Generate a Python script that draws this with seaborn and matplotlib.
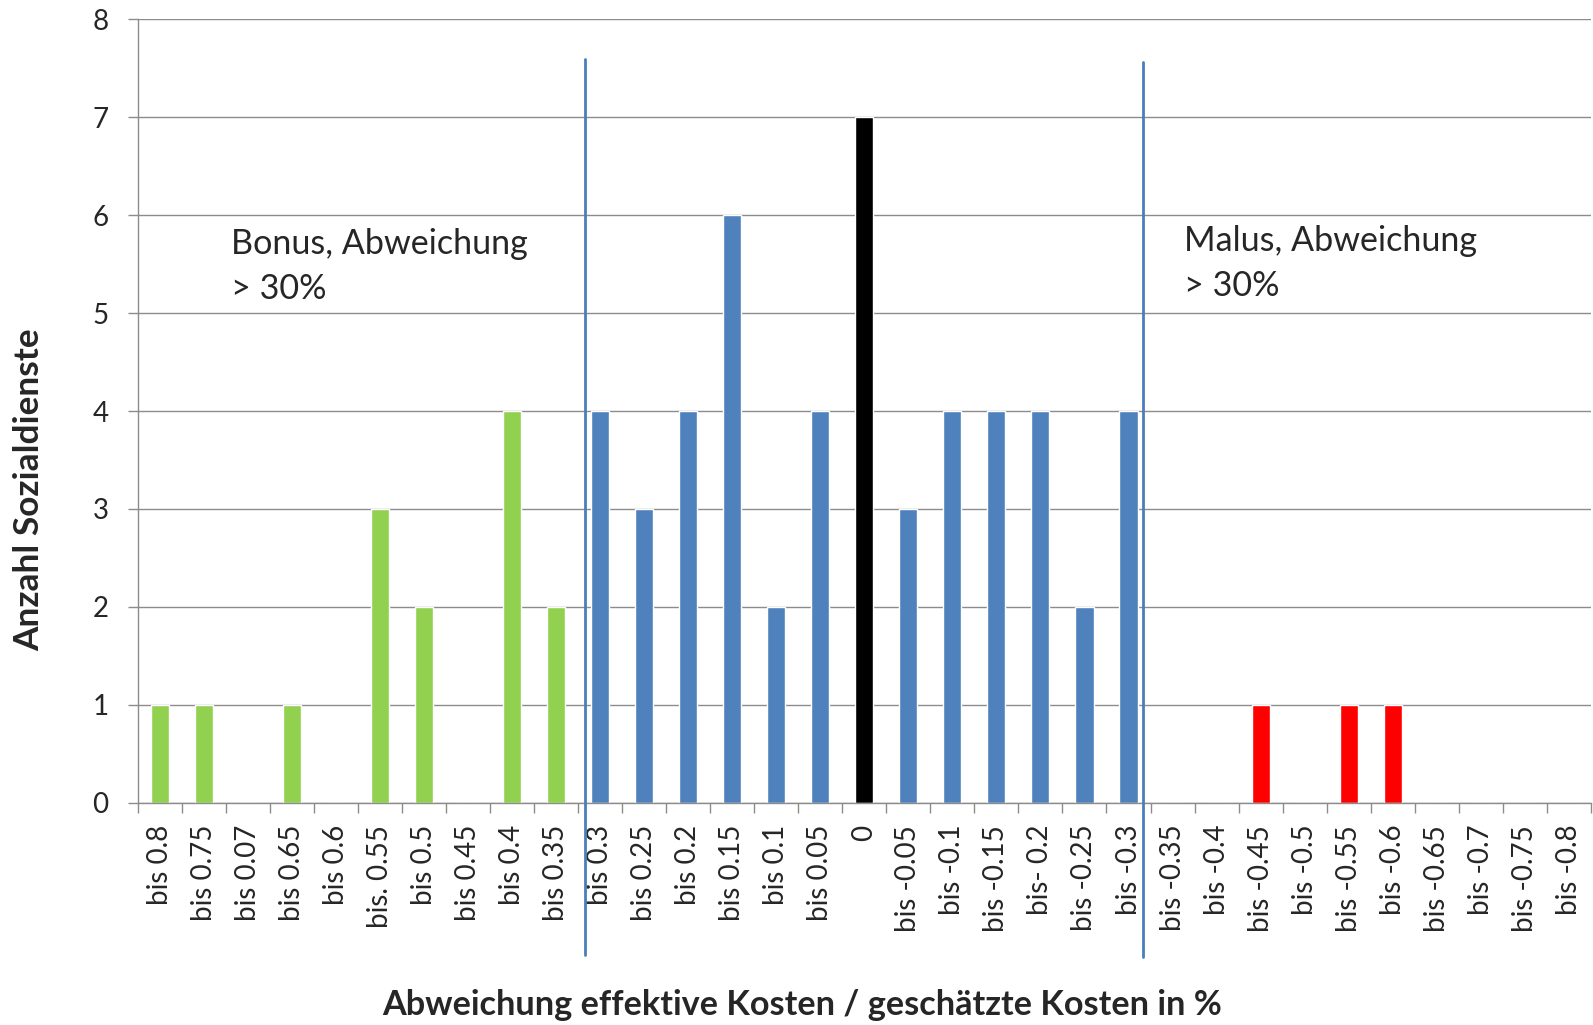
import matplotlib
matplotlib.use("Agg")
import matplotlib.pyplot as plt
import seaborn as sns
import numpy as np

categories = ["bis 0.8", "bis 0.75", "bis 0.07", "bis 0.65", "bis 0.6", "bis. 0.55",
              "bis 0.5", "bis 0.45", "bis 0.4", "bis 0.35", "bis 0.3", "bis 0.25",
              "bis 0.2", "bis 0.15", "bis 0.1", "bis 0.05", "0", "bis -0.05",
              "bis -0.1", "bis -0.15", "bis- 0.2", "bis -0.25", "bis -0.3", "bis -0.35",
              "bis -0.4", "bis -0.45", "bis -0.5", "bis -0.55", "bis -0.6", "bis -0.65",
              "bis -0.7", "bis -0.75", "bis -0.8"]
values = [1, 1, 0, 1, 0, 3, 2, 0, 4, 2,
          4, 3, 4, 6, 2, 4, 7, 3, 4, 4, 4, 2, 4,
          0, 0, 1, 0, 1, 1, 0, 0, 0, 0]
groups = ["bonus"] * 10 + ["mid"] * 6 + ["zero"] + ["mid"] * 7 + ["malus"] * 10
group_colors = {"bonus": "#92D050", "mid": "#4F81BD", "zero": "#000000", "malus": "#FF0000"}
palette = [group_colors[g] for g in groups]
divider_positions = [9.65, 22.32]
divider_extents = [(-1.56, 7.60), (-1.58, 7.57)]

sns.set_theme(style="white")
plt.rcParams['font.family'] = ['Lato', 'DejaVu Sans']

fig = plt.figure(figsize=(15.93, 10.25), dpi=100)
ax = fig.add_axes([0.0866, 0.217, 0.912, 0.764])

sns.barplot(x=categories, y=values, hue=categories, palette=palette, legend=False,
            width=0.41, ax=ax, saturation=1, order=categories)

ax.set_xlim(-0.5, len(categories) - 0.5)
ax.set_ylim(0, 8)
ax.set_yticks(range(0, 9))
ax.yaxis.grid(True, color="#8C8C8C", linewidth=1.0)
ax.set_axisbelow(True)
for s in ["top", "right"]:
    ax.spines[s].set_visible(False)
for s in ["left", "bottom"]:
    ax.spines[s].set_color("#8C8C8C")
    ax.spines[s].set_linewidth(1.0)

ax.set_xticks(range(len(categories)))
ax.set_xticklabels(categories, rotation=90, fontsize=20)
ax.set_xticks(np.arange(-0.5, len(categories), 1), minor=True)
ax.tick_params(axis="x", which="major", length=0, pad=16)
ax.tick_params(axis="x", which="minor", length=7.3, color="#8C8C8C", width=1.0, direction="out", bottom=True)
ax.tick_params(axis="y", length=7.3, color="#8C8C8C", width=1.0, direction="out", left=True, labelsize=20, pad=14)

for xp, (y0, y1) in zip(divider_positions, divider_extents):
    ax.plot([xp, xp], [y0, y1], color="#4A7EBB", linewidth=2, clip_on=False, zorder=5)

ax.text(1.62, 5.48, "Bonus, Abweichung\n> 30%", fontsize=24.6, va="center", ha="left", linespacing=1.5)
ax.text(23.25, 5.51, "Malus, Abweichung\n> 30%", fontsize=24.6, va="center", ha="left", linespacing=1.5)

ax.set_xlabel("Abweichung effektive Kosten / geschätzte Kosten in %", fontsize=24.7,
              fontweight="bold")
ax.set_ylabel("Anzahl Sozialdienste", fontsize=25.4, fontweight="bold")
ax.xaxis.set_label_coords(0.457, -0.238)
ax.yaxis.set_label_coords(-0.064, 0.40)

fig.savefig("out.png", dpi=100)
